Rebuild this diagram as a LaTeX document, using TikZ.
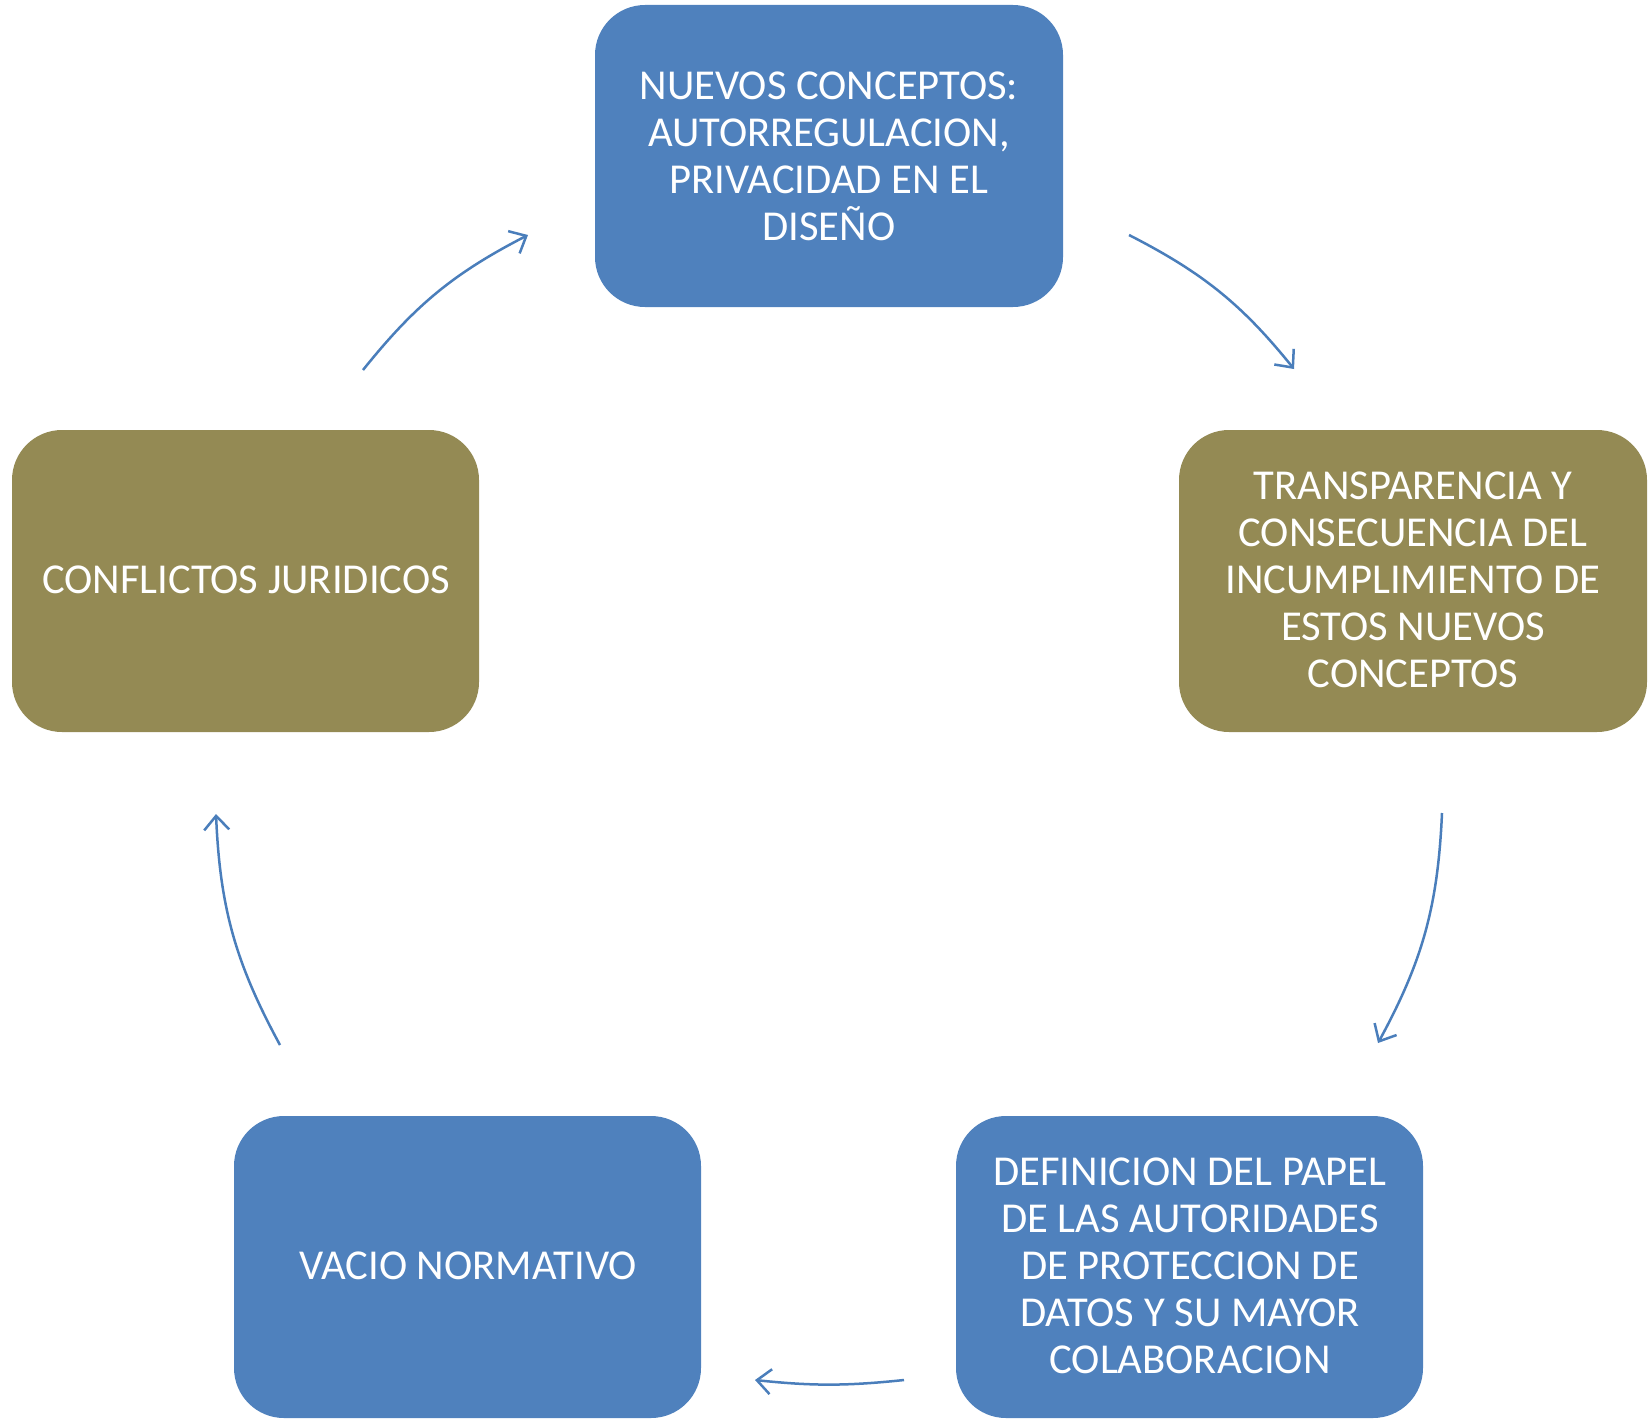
\documentclass[tikz,border=0pt]{standalone}
\usepackage{fontspec}
\setmainfont{Carlito}
\usetikzlibrary{arrows.meta}
\definecolor{boxblue}{HTML}{4F81BD}
\definecolor{boxolive}{HTML}{948A54}
\definecolor{arrowblue}{HTML}{4A7EBB}
\begin{document}
\begin{tikzpicture}[x=1pt,y=-1pt,
  box/.style={rounded corners=50pt, text=white, align=center,
    font=\fontsize{42.6}{47}\selectfont, inner sep=0pt},
  cyc/.style={draw=arrowblue, line width=2.5pt,
    -{Straight Barb[length=14pt,width=25pt,line width=2.5pt]}}]
\useasboundingbox (0,0) rectangle (1648,1421);
% boxes
\fill[boxblue, rounded corners=50pt] (595,5) rectangle (1063,307);
\node[box] (top) at (829,156) {NUEVOS CONCEPTOS:\\AUTORREGULACION,\\PRIVACIDAD EN EL\\DISEÑO};
\fill[boxolive, rounded corners=50pt] (1179,430) rectangle (1647,732);
\node[box] (right) at (1413,580) {TRANSPARENCIA Y\\CONSECUENCIA DEL\\INCUMPLIMIENTO DE\\ESTOS NUEVOS\\CONCEPTOS};
\fill[boxblue, rounded corners=50pt] (956,1116) rectangle (1423,1418);
\node[box] (br) at (1190,1266) {DEFINICION DEL PAPEL\\DE LAS AUTORIDADES\\DE PROTECCION DE\\DATOS Y SU MAYOR\\COLABORACION};
\fill[boxblue, rounded corners=50pt] (234,1116) rectangle (701,1418);
\node[box] (bl) at (468,1266) {VACIO NORMATIVO};
\fill[boxolive, rounded corners=50pt] (12,430) rectangle (479,732);
\node[box] (left) at (246,580) {CONFLICTOS JURIDICOS};
% arrow end points
\coordinate (a1s) at (363,370);  \coordinate (a1e) at (528,235);
\coordinate (a2s) at (1129,235); \coordinate (a2e) at (1294,369);
\coordinate (a3s) at (1442,813); \coordinate (a3e) at (1378,1043);
\coordinate (a4s) at (904,1380); \coordinate (a4e) at (755,1380);
\coordinate (a5s) at (280,1045); \coordinate (a5e) at (216,814);
\draw[cyc] (a1s) to[bend left=12] (a1e);
\draw[cyc] (a2s) to[bend left=12] (a2e);
\draw[cyc] (a3s) to[bend left=13] (a3e);
\draw[cyc] (a4s) to[bend left=6] (a4e);
\draw[cyc] (a5s) to[bend left=13] (a5e);
\end{tikzpicture}
\end{document}
